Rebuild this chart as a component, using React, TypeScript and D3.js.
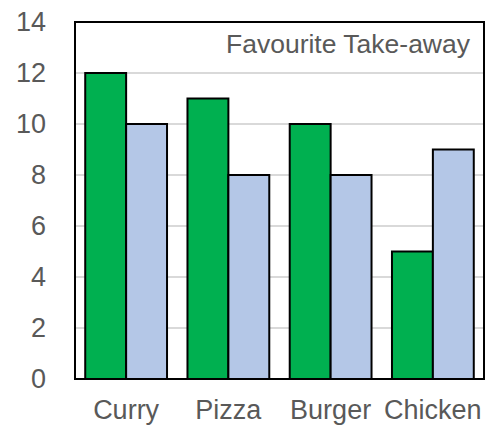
import React from "react";
import * as d3 from "d3";

const categories = ["Curry", "Pizza", "Burger", "Chicken"];
const series1 = [12, 11, 10, 5];
const series2 = [10, 8, 8, 9];
const yTicks = [0, 2, 4, 6, 8, 10, 12, 14];
const title = "Favourite Take-away";

const W = 498, H = 426;
const left = 75, right = 484, top = 22, bottom = 379;
const FONT = "'Liberation Sans', Arial, sans-serif";

export default function App() {
  const x = d3.scaleBand<string>().domain(categories).range([left, right]).paddingInner(0).paddingOuter(0);
  const y = d3.scaleLinear().domain([0, 14]).range([bottom, top]);
  const bw = x.bandwidth();
  const barW = bw / 2.5;
  const gap = (bw - 2 * barW) / 2;
  const colors = ["#00B050", "#B4C7E7"];
  const data = [series1, series2];
  return (
    <svg width={W} height={H} style={{ position: "absolute", left: 0, top: 0 }}>
      <rect x={0} y={0} width={W} height={H} fill="#fff" />
      {yTicks.filter(t => t > 0 && t < 14).map(t => (
        <line key={t} x1={left} x2={right} y1={y(t)} y2={y(t)} stroke="#d9d9d9" strokeWidth={2} />
      ))}
      {categories.map((c, i) => data.map((s, j) => (
        <rect key={c + j} x={(x(c) as number) + gap + j * barW} y={y(s[i])} width={barW} height={bottom - y(s[i])}
          fill={colors[j]} stroke="#000" strokeWidth={2} />
      )))}
      <rect x={left} y={top} width={right - left} height={bottom - top} fill="none" stroke="#000" strokeWidth={2} />
      {yTicks.map(t => (
        <text key={t} x={46} y={y(t)} dy="0.35em" textAnchor="end" fontFamily={FONT} fontSize={27} fill="#595959">{t}</text>
      ))}
      {categories.map(c => (
        <text key={c} x={(x(c) as number) + bw / 2} y={419} textAnchor="middle" fontFamily={FONT} fontSize={27} fill="#595959">{c}</text>
      ))}
      <text x={470} y={53} textAnchor="end" fontFamily={FONT} fontSize={26.5} fill="#595959">{title}</text>
    </svg>
  );
}
